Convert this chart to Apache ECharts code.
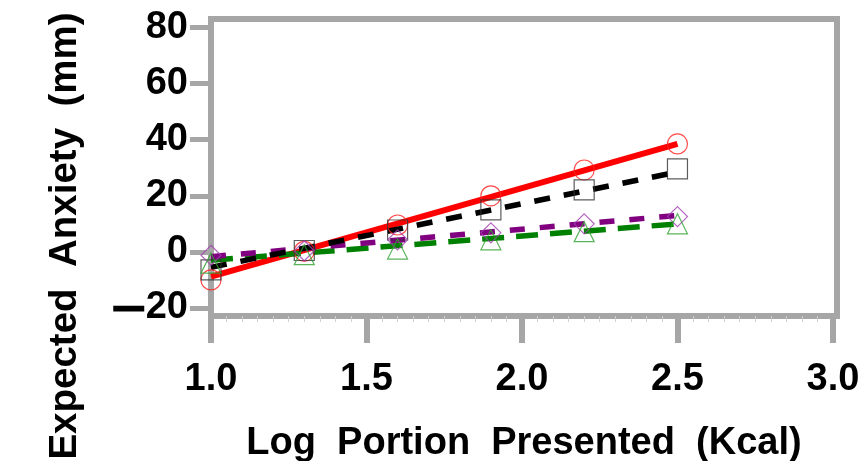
<!DOCTYPE html>
<html lang="en">
<head>
<meta charset="UTF-8">
<title>Expected Anxiety</title>
<script src="https://cdn.jsdelivr.net/npm/echarts@6/dist/echarts.min.js"></script>
<style>
    html, body { margin: 0; padding: 0; background: #fff; }
    #paint { width: 859px; height: 461px; }
</style>
</head>
<body>
<div id="paint"></div>
<script>
// portions presented (log kcal) where anxiety was rated
var portions = [1.0, 1.3, 1.6, 1.9, 2.2, 2.5];
var fitEnds = [1.0, 2.5];

// observed points
var circleVals = [-10, 0.2, 9.6, 20, 29.2, 38.5];
var squareVals = [-6.4, 0.5, 7.8, 15, 22.1, 29.6];
var diamondVals = [-1.2, 0.4, 4.3, 6.8, 10, 12.6];
var triangleVals = [-4, -1, 1, 4.3, 7.2, 10];

// fitted lines, value at each end
var redFit = [-8.8, 38.5];
var blackFit = [-5.5, 28.5];
var purpleFit = [-1.7, 13];
var greenFit = [-3, 10];

var xTicks = [1.0, 1.5, 2.0, 2.5, 3.0];
var yTicks = [-20, 0, 20, 40, 60, 80];

var minorTicks = [];
for (var k = 1; k < 40; k++) {
    if (k % 10 != 0) minorTicks.push(1 + k * 0.05);
}

var FONT = '"Liberation Sans", Arial, sans-serif';
var GRAY = '#a6a6a6';

function pairs(xs, ys) {
    var out = [];
    for (var i = 0; i < xs.length; i++) out.push([xs[i], ys[i]]);
    return out;
}

function fitLine(vals, color, width, dash, z) {
    return {
        type: 'line', data: pairs(fitEnds, vals), symbol: 'none', z: z,
        lineStyle: { color: color, width: width, type: dash, cap: 'butt' }
    };
}

function points(vals, symbol, color) {
    return {
        type: 'scatter', data: pairs(portions, vals), symbol: symbol, symbolSize: 20, z: 10,
        itemStyle: { color: 'rgba(0,0,0,0)', borderColor: color, borderWidth: 1.2 }
    };
}

var myChart = echarts.init(document.getElementById('paint'));
var option = {
    animation: false,
    grid: {
        left: 211, right: 22, top: 19, bottom: 145, containLabel: false, outerBoundsMode: 'none',
        show: true, borderColor: GRAY, borderWidth: 6
    },
    xAxis: [{
        type: 'value', min: 1, max: 3.013, position: 'bottom',
        axisLine: { show: false, onZero: false },
        splitLine: { show: false },
        axisTick: { customValues: xTicks, length: 27, lineStyle: { color: GRAY, width: 6 } },
        axisLabel: {
            customValues: xTicks, margin: 45, color: '#000', fontSize: 38, fontWeight: 'bold', fontFamily: FONT,
            formatter: function (v) { return v.toFixed(1); }
        },
        name: 'Log  Portion  Presented  (Kcal)', nameLocation: 'middle', nameGap: 109,
        nameTextStyle: { color: '#000', fontSize: 38, fontWeight: 'bold', fontFamily: FONT }
    }, {
        type: 'value', min: 1, max: 3.013, position: 'bottom',
        axisLine: { show: false, onZero: false },
        splitLine: { show: false },
        axisLabel: { show: false },
        axisTick: { customValues: minorTicks, length: 6, lineStyle: { color: '#cfcfcf', width: 1 } }
    }],
    yAxis: {
        type: 'value', min: -22.85, max: 83.03, position: 'left',
        axisLine: { show: false, onZero: false },
        splitLine: { show: false },
        axisTick: { customValues: yTicks, length: 21, lineStyle: { color: GRAY, width: 5 } },
        axisLabel: {
            customValues: yTicks, margin: 23, color: '#000', fontSize: 38, fontWeight: 'bold', fontFamily: FONT,
            formatter: function (v) { return v < 0 ? '{m|\u2014}' + Math.abs(v) : String(v); },
            rich: { m: { fontSize: 28, fontWeight: 'bold', fontFamily: FONT, color: '#000', textBorderColor: '#000', textBorderWidth: 3, padding: [0, 3, 0, 0] } }
        }
    },
    graphic: [{
        type: 'text', x: 65, y: 236, rotation: Math.PI / 2,
        style: {
            text: 'Expected  Anxiety  (mm)', fill: '#000',
            font: 'bold 38.5px ' + FONT,
            align: 'center', verticalAlign: 'middle', textAlign: 'center', textVerticalAlign: 'middle'
        }
    }],
    series: [
        fitLine(redFit, '#ff0000', 6, 'solid', 2),
        fitLine(greenFit, '#008000', 5.5, [22, 12], 3),
        fitLine(purpleFit, '#800080', 5.5, [15, 15], 4),
        fitLine(blackFit, '#000000', 5.5, [16, 14], 5),
        points(circleVals, 'circle', '#ff2020'),
        points(squareVals, 'rect', '#333333'),
        points(diamondVals, 'diamond', '#a040b0'),
        points(triangleVals, 'triangle', '#30a030')
    ]
};
myChart.setOption(option);
</script>
</body>
</html>
